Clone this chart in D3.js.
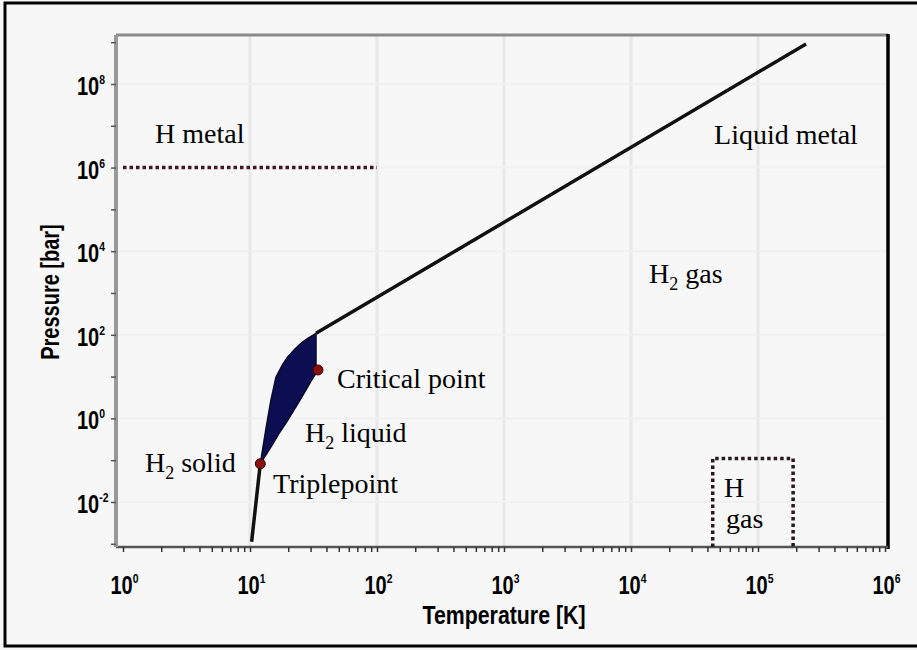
<!DOCTYPE html>
<html><head><meta charset="utf-8">
<script src="https://cdn.jsdelivr.net/npm/d3@7"></script>
<style>
html,body{margin:0;padding:0;background:#f7f7f7;}
svg{display:block;}
</style></head>
<body>
<svg id="chart" width="917" height="650"></svg>
<script>
// ---- data ----
const xTickValues = [1, 10, 100, 1e3, 1e4, 1e5, 1e6];
const xTickExponents = ["0", "1", "2", "3", "4", "5", "6"];
const yTickValues = [1e8, 1e6, 1e4, 1e2, 1, 1e-2];
const yTickExponents = ["8", "6", "4", "2", "0", "-2"];

// sublimation curve (below triple point)
const sublimationT = [10.3, 12.05];
const sublimationP = [0.00112, 0.082];
// liquid region (between melting and vaporization curves)
const liquidT = [12.05, 13.4, 14.6, 16.0, 18.0, 19.8, 22.5, 25.2, 28.5, 31.2, 33.1, 33.1, 34.3, 30.0, 26.6, 22.8, 19.8, 16.8, 14.6];
const liquidP = [0.082, 0.6, 2.7, 9.6, 19.0, 29.4, 45.0, 62.5, 82.0, 97.3, 108.6, 17.0, 14.4, 7.5, 3.97, 1.8, 0.895, 0.42, 0.206];
// high pressure boundary line
const boundaryT = [33.1, 239000];
const boundaryP = [108.6, 9.1e8];
// special points
const tripleT = 12.05, tripleP = 0.082;
const criticalT = 34.3, criticalP = 14.4;
// metallic hydrogen threshold (dotted)
const metalT = [1, 100];
const metalP = [1e6, 1e6];
// atomic H gas box (dotted)
const hGasT = [44000, 189000];
const hGasPTop = 0.11;

// region labels
const labelText = ["H metal", "Liquid metal", "H|2 gas", "Critical point", "H|2 liquid", "H|2 solid", "Triplepoint", "H", "gas"];
const labelT = [1.79, 45080, 13860, 48.4, 27.1, 1.49, 15.2, 53950, 55960];
const labelP = [3.88e6, 3.67e6, 1735, 5.34, 0.272, 0.0522, 0.0164, 0.0132, 0.00239];

// ---- drawing ----
const svg = d3.select("#chart");
const x = d3.scaleLog().domain([1, 1e6]).range([123, 885]);
const y = d3.scaleLog().domain([Math.pow(10, -3.077), Math.pow(10, 9.172)]).range([547, 35]);
const L = 116, R = 888, T = 35, B = 547;

// outer frame
svg.append("rect").attr("x", 5).attr("y", 3).attr("width", 930).attr("height", 643)
  .attr("fill", "#f7f7f7").attr("stroke", "#000").attr("stroke-width", 3);

// faint grid
const gx = svg.append("g");
xTickValues.slice(1, -1).forEach(v => {
  gx.append("line").attr("x1", x(v)).attr("x2", x(v)).attr("y1", T).attr("y2", B)
    .attr("stroke", "#e8e8e8").attr("stroke-width", 3);
});
yTickValues.forEach(v => {
  gx.append("line").attr("x1", L).attr("x2", R).attr("y1", y(v)).attr("y2", y(v))
    .attr("stroke", "#f0f0f0").attr("stroke-width", 2);
});

// top border (grey) and right border (black)
svg.append("line").attr("x1", L).attr("x2", R).attr("y1", T).attr("y2", T)
  .attr("stroke", "#8a8a8a").attr("stroke-width", 3);
svg.append("line").attr("x1", R).attr("x2", R).attr("y1", T - 1).attr("y2", B + 2)
  .attr("stroke", "#000").attr("stroke-width", 3.5);

// axes
const xAxisG = svg.append("g").attr("transform", `translate(0,${B})`)
  .call(d3.axisBottom(x).tickValues(xTickValues.concat(
    d3.range(0, 6).flatMap(e => d3.range(2, 10).map(m => m * Math.pow(10, e))))).tickSize(5).tickFormat(""));
xAxisG.select(".domain").attr("stroke", "#555").attr("stroke-width", 2.5).attr("d", `M${L},0H${R}`);
xAxisG.selectAll(".tick line").attr("stroke", "#333").attr("stroke-width", 1.5);

const yAxisG = svg.append("g").attr("transform", `translate(${L},0)`)
  .call(d3.axisLeft(y).tickValues(d3.range(-3, 10).map(e => Math.pow(10, e))).tickSize(5).tickFormat(""));
yAxisG.select(".domain").attr("stroke", "#999").attr("stroke-width", 4).attr("d", `M0,${T}V${B}`);
yAxisG.selectAll(".tick line").attr("stroke", "#555").attr("stroke-width", 1.5);

const tickFont = "'Liberation Sans',Arial,sans-serif";
const narrow = 0.8;
// x tick labels
xTickValues.forEach((v, i) => {
  const t = svg.append("text").attr("transform", `translate(${x(v) - 12.5},594) scale(${narrow},1)`)
    .attr("font-family", tickFont).attr("font-weight", "bold")
    .attr("font-size", 25).attr("fill", "#000");
  t.append("tspan").text("10");
  t.append("tspan").attr("dy", -11).attr("font-size", 13).text(xTickExponents[i]);
});
// y tick labels
yTickValues.forEach((v, i) => {
  const t = svg.append("text").attr("transform", `translate(77,${y(v) + 11}) scale(${narrow},1)`)
    .attr("font-family", tickFont).attr("font-weight", "bold")
    .attr("font-size", 25).attr("fill", "#000");
  t.append("tspan").text("10");
  t.append("tspan").attr("dy", -11).attr("font-size", 13).text(yTickExponents[i]);
});

// axis titles
svg.append("text").attr("transform", `translate(504,624) scale(0.82,1)`).attr("text-anchor", "middle")
  .attr("font-family", tickFont).attr("font-weight", "bold").attr("font-size", 26)
  .text("Temperature [K]");
svg.append("text").attr("transform", `translate(59,292) rotate(-90) scale(0.8,1)`).attr("text-anchor", "middle")
  .attr("font-family", tickFont).attr("font-weight", "bold").attr("font-size", 25)
  .text("Pressure [bar]");

const line = d3.line().x(d => x(d[0])).y(d => y(d[1]));

// liquid region
svg.append("path").datum(liquidT.map((t, i) => [t, liquidP[i]]))
  .attr("d", d3.line().x(d => x(d[0])).y(d => y(d[1])).curve(d3.curveLinearClosed))
  .attr("fill", "#0d0d52").attr("stroke", "#0a0a2a").attr("stroke-width", 1.5);

// sublimation curve
svg.append("path").datum(sublimationT.map((t, i) => [t, sublimationP[i]]))
  .attr("d", line).attr("fill", "none").attr("stroke", "#111").attr("stroke-width", 3.5);
// boundary line
svg.append("path").datum(boundaryT.map((t, i) => [t, boundaryP[i]]))
  .attr("d", line).attr("fill", "none").attr("stroke", "#111").attr("stroke-width", 3.5);

// metal dotted line
svg.append("path").datum(metalT.map((t, i) => [t, metalP[i]]))
  .attr("d", line).attr("fill", "none").attr("stroke", "#4a1428").attr("stroke-width", 3.5)
  .attr("stroke-dasharray", "3.5,3");

// H gas box
svg.append("path")
  .attr("d", `M${x(hGasT[0])},${B}V${y(hGasPTop)}H${x(hGasT[1])}V${B}`)
  .attr("fill", "none").attr("stroke", "#2a1a22").attr("stroke-width", 3.5)
  .attr("stroke-dasharray", "3.5,3");

// special points
[[tripleT, tripleP], [criticalT, criticalP]].forEach(p => {
  svg.append("circle").attr("cx", x(p[0])).attr("cy", y(p[1])).attr("r", 5)
    .attr("fill", "#8a1010").attr("stroke", "#300").attr("stroke-width", 1);
});

// region labels
labelText.forEach((s, i) => {
  const t = svg.append("text").attr("x", x(labelT[i])).attr("y", y(labelP[i]))
    .attr("font-family", "'Liberation Serif','Times New Roman',serif").attr("font-size", 28).attr("fill", "#000");
  const parts = s.split("|");
  if (parts.length === 1) { t.text(s); }
  else {
    t.append("tspan").text(parts[0]);
    const sub = parts[1];
    const num = sub.charAt(0), rest = sub.slice(1);
    t.append("tspan").attr("dy", 7).attr("font-size", 18).text(num);
    t.append("tspan").attr("dy", -7).text(rest);
  }
});
</script>
</body></html>
